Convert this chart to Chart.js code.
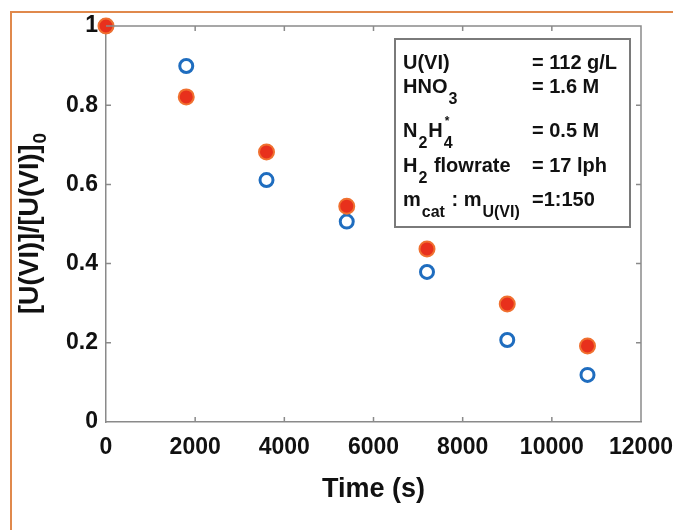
<!DOCTYPE html>
<html>
<head>
<meta charset="utf-8">
<script src="https://cdn.jsdelivr.net/npm/chart.js@4.4.1/dist/chart.umd.min.js"></script>
<style>
    html, body { margin: 0; padding: 0; background: #fff; }
    #wrap { position: relative; width: 673px; height: 530px; }
    #frame { position: absolute; left: 10px; top: 11px; right: -5px; bottom: -5px;
             border-left: 2px solid #e0894c; border-top: 2px solid #e0894c; pointer-events: none; }
    canvas { position: absolute; left: 0; top: 0; }
</style>
</head>
<body>
<div id="wrap">
    <canvas id="myChart" width="673" height="530"></canvas>
    <div id="frame"></div>
</div>
<script>
// data
var timeRed = [0, 1800, 3600, 5400, 7200, 9000, 10800];
var ratioRed = [1.0, 0.821, 0.682, 0.545, 0.437, 0.298, 0.192];
var timeBlue = [0, 1800, 3600, 5400, 7200, 9000, 10800];
var ratioBlue = [1.0, 0.899, 0.611, 0.506, 0.379, 0.207, 0.119];

var xTitle = 'Time (s)';
var yTitleMain = '[U(VI)]/[U(VI)]';
var yTitleSub = '0';

// info box: label pieces (n = normal, sub = subscript, sup = superscript over previous)
var infoLabels = [
    [['U(VI)', 'n']],
    [['HNO', 'n'], ['3', 'sub']],
    [['N', 'n'], ['2', 'sub'], ['H', 'n'], ['4', 'sub'], ['*', 'sup']],
    [['H', 'n'], ['2', 'sub'], [' flowrate', 'n']],
    [['m', 'n'], ['cat', 'sub'], [' : m', 'n'], ['U(VI)', 'sub']]
];
var infoValues = ['= 112 g/L', '= 1.6 M', '= 0.5 M', '= 17 lph', '=1:150'];

var FONT = "'Liberation Sans', Arial, Helvetica, sans-serif";

function toPoints(xs, ys) {
    return xs.map(function (x, i) { return { x: x, y: ys[i] }; });
}

var framePlugin = {
    id: 'framePlugin',
    afterDraw: function (chart) {
        var ctx = chart.ctx;
        var a = chart.chartArea;
        var xs = chart.scales.x, ys = chart.scales.y;
        ctx.save();
        ctx.strokeStyle = '#8a8a8a';
        ctx.lineWidth = 1.5;
        ctx.beginPath();
        ctx.moveTo(a.left, a.top); ctx.lineTo(a.right, a.top); ctx.lineTo(a.right, a.bottom);
        // inward ticks
        xs.ticks.forEach(function (t) {
            var px = xs.getPixelForValue(t.value);
            if (px <= a.left + 1 || px >= a.right - 1) return;
            ctx.moveTo(px, a.bottom); ctx.lineTo(px, a.bottom - 5);
            ctx.moveTo(px, a.top); ctx.lineTo(px, a.top + 5);
        });
        ys.ticks.forEach(function (t) {
            var py = ys.getPixelForValue(t.value);
            if (py <= a.top + 1 || py >= a.bottom - 1) return;
            ctx.moveTo(a.left, py); ctx.lineTo(a.left + 5, py);
            ctx.moveTo(a.right, py); ctx.lineTo(a.right - 5, py);
        });
        ctx.stroke();

        // y title with subscript
        ctx.fillStyle = '#111';
        ctx.translate(31, (a.top + a.bottom) / 2);
        ctx.rotate(-Math.PI / 2);
        ctx.font = 'bold 27px ' + FONT;
        var wMain = ctx.measureText(yTitleMain).width;
        ctx.font = 'bold 19px ' + FONT;
        var wSub = ctx.measureText(yTitleSub).width;
        var start = -(wMain + wSub) / 2;
        ctx.textBaseline = 'middle';
        ctx.font = 'bold 27px ' + FONT;
        ctx.fillText(yTitleMain, start, 0);
        ctx.font = 'bold 19px ' + FONT;
        ctx.fillText(yTitleSub, start + wMain + 1, 10);
        ctx.restore();

        // info box
        ctx.save();
        ctx.strokeStyle = '#7a7a7a';
        ctx.lineWidth = 2;
        ctx.fillStyle = '#fff';
        ctx.fillRect(395, 39, 235, 188);
        ctx.strokeRect(395, 39, 235, 188);
        ctx.fillStyle = '#111';
        ctx.textBaseline = 'alphabetic';
        var baselines = [69, 93, 137, 172, 206];
        infoLabels.forEach(function (row, r) {
            var x = 403, lastX = x;
            row.forEach(function (seg) {
                var t = seg[0], kind = seg[1];
                if (kind === 'n') {
                    ctx.font = 'bold 20px ' + FONT;
                    ctx.fillText(t, x, baselines[r]);
                    lastX = x;
                    x += ctx.measureText(t).width;
                } else if (kind === 'sub') {
                    ctx.font = 'bold 16px ' + FONT;
                    ctx.fillText(t, x + 1, baselines[r] + 11);
                    lastX = x + 1;
                    x += ctx.measureText(t).width + 2;
                } else {
                    ctx.font = 'bold 12px ' + FONT;
                    ctx.fillText(t, lastX + 1, baselines[r] - 12);
                }
            });
            ctx.font = 'bold 20px ' + FONT;
            ctx.fillText(infoValues[r], 532, baselines[r]);
        });
        ctx.restore();
    }
};

var ctx = document.getElementById('myChart').getContext('2d');
var chart = new Chart(ctx, {
    type: 'scatter',
    data: {
        datasets: [{
            label: 'filled',
            data: toPoints(timeRed, ratioRed),
            backgroundColor: '#e8301c',
            borderColor: '#f07030',
            borderWidth: 2,
            pointRadius: 7.5,
            pointHoverRadius: 7.5,
            order: 1,
            clip: false
        }, {
            label: 'open',
            data: toPoints(timeBlue, ratioBlue),
            backgroundColor: 'rgba(255,255,255,0)',
            borderColor: '#1f6dbf',
            borderWidth: 3,
            pointRadius: 6.5,
            pointHoverRadius: 6.5,
            order: 2,
            clip: false
        }]
    },
    plugins: [framePlugin],
    options: {
        responsive: false,
        animation: false,
        events: [],
        layout: { padding: { left: 10, top: 26, right: 32, bottom: 20 } },
        plugins: {
            legend: { display: false },
            tooltip: { enabled: false }
        },
        scales: {
            x: {
                type: 'linear',
                min: 0, max: 12000,
                grid: { display: false, drawTicks: false },
                border: { display: true, color: '#8a8a8a', width: 1.5 },
                ticks: {
                    stepSize: 2000, padding: 12, color: '#111',
                    font: { family: FONT, size: 23, weight: 'bold' },
                    callback: function (v) { return String(v); }
                },
                title: { display: true, text: xTitle, color: '#111', font: { family: FONT, size: 27, weight: 'bold' } },
                afterFit: function (scale) {
                    scale.height = 88;
                    scale.paddingLeft = 0;
                    scale.paddingRight = 0;
                }
            },
            y: {
                type: 'linear',
                min: 0, max: 1,
                grid: { display: false, drawTicks: false },
                border: { display: true, color: '#8a8a8a', width: 1.5 },
                ticks: {
                    stepSize: 0.2, padding: 8, color: '#111',
                    font: { family: FONT, size: 23, weight: 'bold' },
                    callback: function (v) { return String(Math.round(v * 10) / 10); }
                },
                afterFit: function (scale) {
                    scale.width = 96;
                    scale.paddingTop = 0;
                    scale.paddingBottom = 0;
                }
            }
        }
    }
});
</script>
</body>
</html>
